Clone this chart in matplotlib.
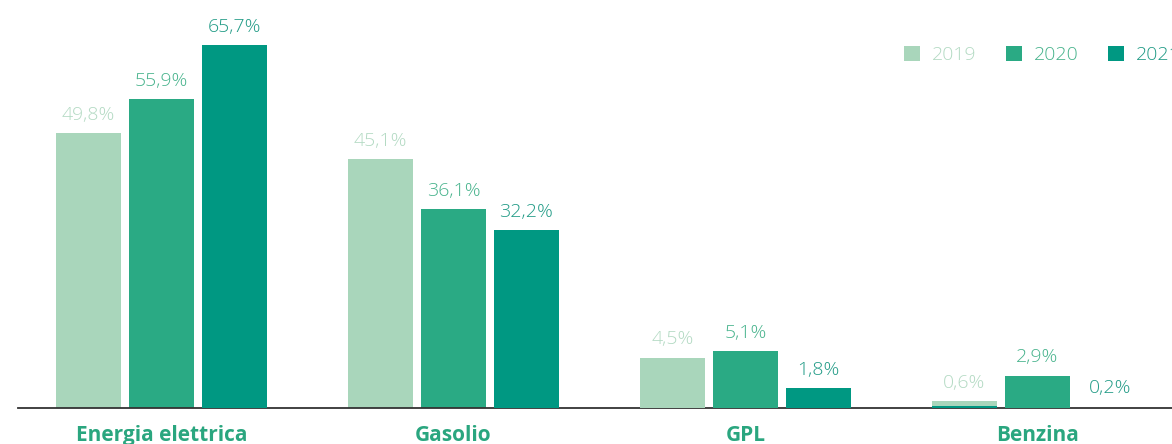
import matplotlib
matplotlib.use("Agg")
import matplotlib.pyplot as plt
from matplotlib.patches import Patch

# Fuel shares by year
categories = ["Energia elettrica", "Gasolio", "GPL", "Benzina"]
years = ["2019", "2020", "2021"]
share_2019 = [49.8, 45.1, 4.5, 0.6]
share_2020 = [55.9, 36.1, 5.1, 2.9]
share_2021 = [65.7, 32.2, 1.8, 0.2]
series = [share_2019, share_2020, share_2021]

bar_colors = ["#a9d6bb", "#2aaa84", "#009882"]
label_colors = ["#b3dac3", "#47b38c", "#219b86"]
cat_color = "#2aa67f"

plt.rcParams["font.family"] = ["Open Sans", "DejaVu Sans"]

W, H, DPI = 1172, 444, 100
fig = plt.figure(figsize=(W / DPI, H / DPI), dpi=DPI)

# Axes placed in pixel terms: baseline at y=408 from top, left edge at x=18
ax_left, ax_bottom = 18, H - 408
rect = [ax_left / W, ax_bottom / H, (W - ax_left) / W, 408 / H]
ax = fig.add_axes(rect)
# the two small categories are drawn on a magnified scale
ax_small = fig.add_axes(rect, sharex=ax)
ax_small.patch.set_visible(False)

big_px_per_unit = 5.52
small_px_per_unit = 11.2
group_px = 292
first_center = 161.5
ax.set_ylim(0, 408 / big_px_per_unit)
ax_small.set_ylim(0, 408 / small_px_per_unit)
x0 = -(first_center - ax_left) / group_px
ax.set_xlim(x0, x0 + (W - ax_left) / group_px)

bar_w = 65 / group_px
step = 73 / group_px
offsets = [-step, 0, step]
small_cats = {"GPL", "Benzina"}

for s, vals in enumerate(series):
    for i, v in enumerate(vals):
        target = ax_small if categories[i] in small_cats else ax
        bx = i + offsets[s]
        label_x = bx
        # the tiny 2021 petrol bar sits at the 2019 slot
        if s == 2 and categories[i] == "Benzina":
            bx = i + offsets[0]
        target.bar(bx, v, width=bar_w, color=bar_colors[s], zorder=2 + (s == 2))
        target.annotate(f"{v:.1f}%".replace(".", ","), (label_x, v),
                        xytext=(0, 9.5), textcoords="offset points",
                        ha="center", va="baseline", fontsize=14,
                        fontweight="light", color=label_colors[s])

for a in (ax, ax_small):
    for spine in ["top", "right", "left"]:
        a.spines[spine].set_visible(False)
    a.set_yticks([])
ax_small.spines["bottom"].set_visible(False)
ax_small.tick_params(axis="x", length=0, labelbottom=False)
ax.spines["bottom"].set_color("#333333")
ax.spines["bottom"].set_linewidth(1.3)
ax.set_xticks(range(len(categories)))
ax.set_xticklabels(categories, fontsize=15, fontweight="bold", color=cat_color)
ax.tick_params(axis="x", length=0, pad=12)

handles = [Patch(facecolor=c, edgecolor="none") for c in bar_colors]
leg = fig.legend(handles, years, loc="center left",
                 bbox_to_anchor=(904 / W, 1 - 55 / H), ncol=3, frameon=False,
                 fontsize=14, handlelength=0.82, handleheight=0.82,
                 handletextpad=0.62, columnspacing=1.5, borderpad=0,
                 borderaxespad=0, labelcolor=label_colors)
for t in leg.get_texts():
    t.set_fontweight("light")

fig.savefig("out.png", dpi=DPI)
